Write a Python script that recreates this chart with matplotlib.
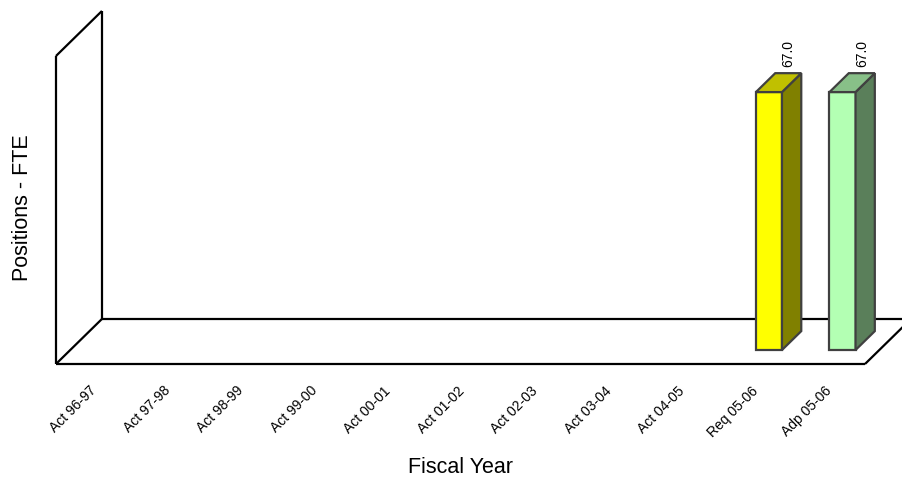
import matplotlib.pyplot as plt
from matplotlib.patches import Polygon

plt.rcParams['font.family'] = ['Liberation Sans', 'DejaVu Sans']

categories = ["Act 96-97", "Act 97-98", "Act 98-99", "Act 99-00", "Act 00-01",
              "Act 01-02", "Act 02-03", "Act 03-04", "Act 04-05",
              "Req 05-06", "Adp 05-06"]
values = [0, 0, 0, 0, 0, 0, 0, 0, 0, 67.0, 67.0]
front_colors = ["#FFFF00"] * 10 + ["#B3FFB3"]
side_colors = ["#808000"] * 10 + ["#5A7F5A"]
top_colors = ["#C0C000"] * 10 + ["#88C088"]

YMAX = 80
# 3D depth offsets in data units
DX = 0.625
DY = 11.7
F0 = 0.31     # bar front position (fraction of depth)
FD = 0.42     # bar thickness (fraction of depth)
W = 0.354


def main():
    fig = plt.figure(figsize=(9.03, 4.78), dpi=100)
    ax = fig.add_axes([0, 0, 1, 1])
    ax.set_xlim(-1.261, -1.261 + 903 / 73.55)
    ax.set_ylim(-114 / 3.85, 364 / 3.85)
    ax.axis('off')

    n = len(categories)
    x0, x1 = -0.5, n - 0.5
    k = dict(color='black', lw=1.6, solid_capstyle='butt', zorder=1)
    # walls and floor
    ax.plot([x0, x0], [0, YMAX], **k)
    ax.plot([x0 + DX, x0 + DX], [DY, YMAX + DY], **k)
    ax.plot([x0, x0 + DX], [YMAX, YMAX + DY], **k)
    ax.plot([x0, x0 + DX], [0, DY], **k)
    ax.plot([x0, x1], [0, 0], **k)
    ax.plot([x0 + DX, x1 + DX], [DY, DY], **k)
    ax.plot([x1, x1 + DX], [0, DY], **k)

    ec = '#404040'
    for i, v in enumerate(values):
        if v <= 0:
            continue
        fx = i - W / 2 + F0 * DX
        fy = F0 * DY
        ddx, ddy = FD * DX, FD * DY
        ax.bar(fx, v, width=W, bottom=fy, align='edge', color=front_colors[i],
               edgecolor=ec, lw=1.6, zorder=3)
        side = [(fx + W, fy), (fx + W + ddx, fy + ddy),
                (fx + W + ddx, fy + v + ddy), (fx + W, fy + v)]
        ax.add_patch(Polygon(side, closed=True, fc=side_colors[i], ec=ec,
                             lw=1.6, zorder=3))
        top = [(fx, fy + v), (fx + W, fy + v), (fx + W + ddx, fy + v + ddy),
               (fx + ddx, fy + v + ddy)]
        ax.add_patch(Polygon(top, closed=True, fc=top_colors[i], ec=ec,
                             lw=1.6, joinstyle='miter', zorder=3))
        ax.text(i + F0 * DX + ddx, fy + v + ddy + 1.5, f"{v:.1f}",
                rotation=90, ha='center', va='bottom', fontsize=10)

    for i, c in enumerate(categories):
        ax.text(i + 0.02, -6.4, c, rotation=45, rotation_mode='anchor',
                ha='right', va='center', fontsize=10)

    ax.text(5.0, -26.8, "Fiscal Year", ha='center', va='center', fontsize=15.5)
    ax.text(-0.95, 40.5, "Positions - FTE", rotation=90, ha='center',
            va='center', fontsize=15.5)

    fig.savefig("out.png", dpi=100)


if __name__ == '__main__':
    main()
